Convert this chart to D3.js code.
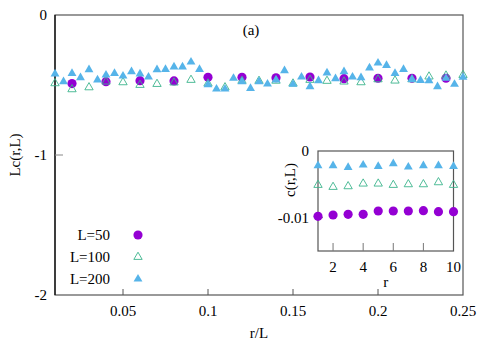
<!DOCTYPE html>
<html>
<head>
  <title>Lc(r,L)</title>
  <script src="https://d3js.org/d3.v7.min.js"></script>
  <style>
    body { margin: 0; background: #fff; }
    text { font-family: "Liberation Serif", "Times New Roman", serif; fill: #000; }
  </style>
</head>
<body>
  <svg id="chart" width="491" height="343"></svg>

  <script>
    // main plot data: Lc(r,L) against r/L
    const r50 = d3.range(1, 13);
    const lc50 = [-0.49, -0.476, -0.469, -0.471, -0.445, -0.445, -0.448, -0.443, -0.455, -0.452, -0.452, -0.452];

    const r100 = d3.range(1, 26);
    const lc100 = [-0.488, -0.531, -0.517, -0.476, -0.481, -0.5, -0.493, -0.483, -0.464, -0.49,
                   -0.517, -0.471, -0.471, -0.47, -0.49, -0.464, -0.471, -0.476, -0.481, -0.46,
                   -0.469, -0.46, -0.44, -0.433, -0.429];

    const r200 = d3.range(2, 51);
    const lc200 = [-0.421, -0.476, -0.417, -0.448, -0.39, -0.464, -0.429, -0.417, -0.436, -0.405,
                   -0.421, -0.443, -0.39, -0.388, -0.371, -0.371, -0.336, -0.388, -0.498, -0.529,
                   -0.529, -0.452, -0.476, -0.524, -0.476, -0.493, -0.464, -0.398, -0.495, -0.443,
                   -0.512, -0.469, -0.414, -0.455, -0.405, -0.443, -0.448, -0.378, -0.343, -0.36,
                   -0.417, -0.388, -0.46, -0.467, -0.469, -0.512, -0.452, -0.495, -0.445];

    const xTicks = [0.05, 0.1, 0.15, 0.2, 0.25];
    const yTicks = [0, -1, -2];

    // inset data: c(r,L) against r
    const rInset = d3.range(1, 11);
    const c50 = [-0.0098, -0.0096, -0.0095, -0.0095, -0.009, -0.009, -0.009, -0.00895, -0.0091, -0.0091];
    const c100 = [-0.0051, -0.0054, -0.0053, -0.0049, -0.0049, -0.0051, -0.005, -0.005, -0.0047, -0.0051];
    const c200 = [-0.0022, -0.0022, -0.00245, -0.0021, -0.0023, -0.0019, -0.0024, -0.0022, -0.0022, -0.0023];
    const insetXTicks = [2, 4, 6, 8, 10];
    const insetYTicks = [0, -0.01];

    const colors = { 50: "#9400d3", 100: "#3cb48c", 200: "#56b4e9" };
    const fs = 15;

    const svg = d3.select("#chart");

    // scales for main plot
    const x = d3.scaleLinear().domain([0.01, 0.25]).range([55, 463]);
    const y = d3.scaleLinear().domain([-2, 0]).range([295, 15]);

    // scales for inset
    const xi = d3.scaleLinear().domain([1, 10]).range([318, 453.5]);
    const yi = d3.scaleLinear().domain([-0.015, 0]).range([251, 151]);

    const circleSym = d3.symbol().type(d3.symbolCircle).size(66);
    const triSym = d3.symbol().type(d3.symbolTriangle).size(34);
    const triSymSmall = d3.symbol().type(d3.symbolTriangle).size(30);

    // draws one series of markers
    function drawSeries(g, xs, ys, sx, sy, L, hollow) {
      const pts = xs.map((v, i) => [sx(v), sy(ys[i])]);
      const sym = L === 50 ? circleSym : (hollow ? triSymSmall : triSym);
      g.selectAll(null)
        .data(pts)
        .enter().append("path")
        .attr("d", sym)
        .attr("transform", d => `translate(${d[0]},${d[1]})`)
        .attr("fill", hollow ? "none" : colors[L])
        .attr("stroke", hollow ? colors[L] : "none")
        .attr("stroke-width", 0.9);
    }

    // ---- main frame ----
    const main = svg.append("g");
    main.append("rect")
      .attr("x", x.range()[0]).attr("y", y.range()[1])
      .attr("width", x.range()[1] - x.range()[0])
      .attr("height", y.range()[0] - y.range()[1])
      .attr("fill", "none").attr("stroke", "#555").attr("stroke-width", 1.2);
    main.append("line")
      .attr("x1", x.range()[0]).attr("x2", x.range()[0])
      .attr("y1", y.range()[1]).attr("y2", y.range()[0])
      .attr("stroke", "#000").attr("stroke-width", 1.2);

    // x ticks (inward)
    xTicks.forEach(t => {
      if (t < 0.25) {
        main.append("line")
          .attr("x1", x(t)).attr("x2", x(t))
          .attr("y1", y(-2)).attr("y2", y(-2) - 6)
          .attr("stroke", "#555");
      }
      main.append("text")
        .attr("x", x(t)).attr("y", y(-2) + 21)
        .attr("text-anchor", "middle")
        .attr("font-size", fs)
        .text(t);
    });

    // y ticks
    yTicks.forEach(t => {
      if (t === -1) {
        main.append("line")
          .attr("x1", x(0.01)).attr("x2", x(0.01) + 8)
          .attr("y1", y(t)).attr("y2", y(t))
          .attr("stroke", "#888");
      }
      main.append("text")
        .attr("x", 47).attr("y", y(t) + 5)
        .attr("text-anchor", "end")
        .attr("font-size", fs)
        .text(t);
    });

    main.append("text")
      .attr("x", x(0.13)).attr("y", 338)
      .attr("text-anchor", "middle").attr("font-size", fs)
      .text("r/L");
    main.append("text")
      .attr("transform", "translate(20,155) rotate(-90)")
      .attr("text-anchor", "middle").attr("font-size", fs)
      .text("Lc(r,L)");
    main.append("text")
      .attr("x", 251).attr("y", 35)
      .attr("text-anchor", "middle").attr("font-size", fs)
      .text("(a)");

    // ---- main series ----
    drawSeries(main, r50.map(r => r / 50), lc50, x, y, 50, false);
    drawSeries(main, r100.map(r => r / 100), lc100, x, y, 100, true);
    drawSeries(main, r200.map(r => r / 200), lc200, x, y, 200, false);

    // ---- legend ----
    const legendItems = [
      { label: "L=50", L: 50, hollow: false, yy: 235 },
      { label: "L=100", L: 100, hollow: true, yy: 257 },
      { label: "L=200", L: 200, hollow: false, yy: 279 }
    ];
    legendItems.forEach(it => {
      main.append("text")
        .attr("x", 110).attr("y", it.yy + 5)
        .attr("text-anchor", "end").attr("font-size", fs)
        .text(it.label);
      const sym = it.L === 50 ? circleSym : (it.hollow ? triSymSmall : triSym);
      main.append("path")
        .attr("d", sym)
        .attr("transform", `translate(138,${it.yy})`)
        .attr("fill", it.hollow ? "none" : colors[it.L])
        .attr("stroke", it.hollow ? colors[it.L] : "none")
        .attr("stroke-width", 0.9);
    });

    // ---- inset ----
    const inset = svg.append("g");
    inset.append("rect")
      .attr("x", xi.range()[0]).attr("y", yi.range()[1])
      .attr("width", xi.range()[1] - xi.range()[0])
      .attr("height", yi.range()[0] - yi.range()[1])
      .attr("fill", "#fff").attr("stroke", "#555").attr("stroke-width", 1.2);

    insetXTicks.forEach(t => {
      if (t < 10) {
        inset.append("line")
          .attr("x1", xi(t)).attr("x2", xi(t))
          .attr("y1", yi.range()[0]).attr("y2", yi.range()[0] - 8)
          .attr("stroke", "#777");
      }
      inset.append("text")
        .attr("x", xi(t)).attr("y", yi.range()[0] + 21)
        .attr("text-anchor", "middle").attr("font-size", fs)
        .text(t);
    });
    insetYTicks.forEach(t => {
      if (t !== 0) {
        inset.append("line")
          .attr("x1", xi(1)).attr("x2", xi(1) + 5)
          .attr("y1", yi(t)).attr("y2", yi(t))
          .attr("stroke", "#777");
      }
      inset.append("text")
        .attr("x", 309).attr("y", yi(t) + 5)
        .attr("text-anchor", "end").attr("font-size", fs)
        .text(t);
    });
    inset.append("text")
      .attr("x", xi(5.5)).attr("y", 287)
      .attr("text-anchor", "middle").attr("font-size", fs)
      .text("r");
    inset.append("text")
      .attr("transform", "translate(295,180) rotate(-90)")
      .attr("text-anchor", "middle").attr("font-size", fs)
      .text("c(r,L)");

    drawSeries(inset, rInset, c50, xi, yi, 50, false);
    drawSeries(inset, rInset, c100, xi, yi, 100, true);
    drawSeries(inset, rInset, c200, xi, yi, 200, false);
  </script>
</body>
</html>
